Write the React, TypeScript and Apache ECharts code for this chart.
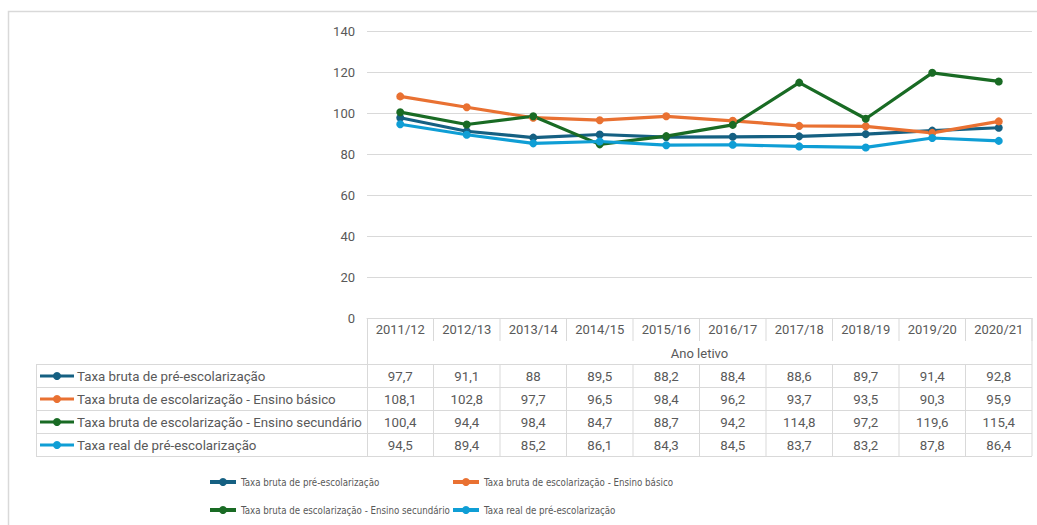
import React, { useEffect, useRef } from "react";
import * as echarts from "echarts";

const categories = ["2011/12", "2012/13", "2013/14", "2014/15", "2015/16", "2016/17", "2017/18", "2018/19", "2019/20", "2020/21"];
const seriesNames = [
  "Taxa bruta de pré-escolarização",
  "Taxa bruta de escolarização - Ensino básico",
  "Taxa bruta de escolarização - Ensino secundário",
  "Taxa real de pré-escolarização",
];
const preBruta = [97.7, 91.1, 88, 89.5, 88.2, 88.4, 88.6, 89.7, 91.4, 92.8];
const basico = [108.1, 102.8, 97.7, 96.5, 98.4, 96.2, 93.7, 93.5, 90.3, 95.9];
const secundario = [100.4, 94.4, 98.4, 84.7, 88.7, 94.2, 114.8, 97.2, 119.6, 115.4];
const preReal = [94.5, 89.4, 85.2, 86.1, 84.3, 84.5, 83.7, 83.2, 87.8, 86.4];
const seriesData = [preBruta, basico, secundario, preReal];
const colors = ["#156082", "#E97132", "#196B24", "#0F9ED5"];
const axisName = "Ano letivo";

const FONT = "Roboto";
const LEGEND_FONT = "'Liberation Sans Narrow', 'DejaVu Sans Condensed', Roboto";
const TXT = "#595959";
const GRID = "#d9d9d9";

function fitLegendSize(): number {
  try {
    const c = document.createElement("canvas").getContext("2d");
    if (!c) return 10.2;
    c.font = "12px " + LEGEND_FONT;
    const w = c.measureText(seriesNames[2]).width;
    const s = (12 * 209) / w;
    return Math.min(12.5, s);
  } catch (e) {
    return 10.2;
  }
}

export default function App() {
  const ref = useRef<HTMLDivElement>(null);
  useEffect(() => {
    if (!ref.current) return;
    const chart = echarts.init(ref.current, undefined, { renderer: "svg" });
    const gridLeft = 367;
    const gridRight = 1032;
    const legendSize = fitLegendSize();
    const legendPos = [
      [208, 477],
      [451, 477],
      [208, 505],
      [451, 505],
    ];
    chart.setOption({
      animation: false,
      textStyle: { fontFamily: FONT },
      grid: { left: gridLeft, right: 1037 - gridRight, top: 31, bottom: 525 - 318 },
      legend: seriesNames.map((n, i) => ({
        data: [n],
        left: legendPos[i][0],
        top: legendPos[i][1],
        padding: 0,
        itemWidth: 26,
        itemHeight: 10,
        lineStyle: { width: 4 },
        textStyle: { color: TXT, fontSize: legendSize, fontFamily: LEGEND_FONT },
        selectedMode: false,
      })),
      xAxis: {
        type: "category",
        data: categories,
        boundaryGap: true,
        axisLine: { show: true, lineStyle: { color: GRID, width: 1 } },
        axisTick: { show: false },
        axisLabel: { color: TXT, fontSize: 13, margin: 5, fontFamily: FONT },
        name: axisName,
        nameLocation: "middle",
        nameGap: 29,
        nameTextStyle: { color: TXT, fontSize: 13, fontFamily: FONT },
      },
      yAxis: {
        type: "value",
        min: 0,
        max: 140,
        interval: 20,
        axisLine: { show: false },
        axisTick: { show: false },
        splitLine: { lineStyle: { color: GRID, width: 1 } },
        axisLabel: { color: TXT, fontSize: 13, margin: 12, fontFamily: FONT },
      },
      series: seriesNames.map((n, i) => ({
        name: n,
        type: "line",
        data: seriesData[i],
        symbol: "circle",
        symbolSize: 8,
        lineStyle: { color: colors[i], width: 3.2 },
        itemStyle: { color: colors[i] },
      })),
    });

    const centers = categories.map((_, i) => chart.convertToPixel({ xAxisIndex: 0 }, i) as number);
    const half = (gridRight - gridLeft) / categories.length / 2;
    const axisY = 318;
    const headerBottom = 341;
    const rowTops = [364, 387, 410, 433, 456];
    const tableLeft = 36;
    const line = (x1: number, y1: number, x2: number, y2: number) => ({
      type: "line",
      shape: { x1, y1, x2, y2 },
      style: { stroke: GRID, lineWidth: 1 },
      silent: true,
    });
    const els: any[] = [];
    els.push({
      type: "polyline",
      shape: { points: [[8.5, 525], [8.5, 11.5], [1037, 11.5]] },
      style: { stroke: GRID, lineWidth: 1.5, fill: "none" },
      silent: true,
    });
    centers.forEach((c) => {
      els.push(line(c + half, axisY, c + half, headerBottom));
    });
    els.push(line(gridLeft + 0.5, axisY, gridLeft + 0.5, rowTops[4]));
    els.push(line(gridRight, axisY, gridRight, rowTops[4]));
    rowTops.forEach((y) => els.push(line(tableLeft, y + 0.5, gridRight, y + 0.5)));
    els.push(line(tableLeft + 0.5, rowTops[0], tableLeft + 0.5, rowTops[4]));
    centers.forEach((c, i) => {
      if (i < centers.length - 1) els.push(line(c + half, rowTops[0], c + half, rowTops[4]));
    });
    seriesNames.forEach((n, r) => {
      const cy = (rowTops[r] + rowTops[r + 1]) / 2 + 0.5;
      els.push({
        type: "line",
        shape: { x1: 40, y1: cy, x2: 74, y2: cy },
        style: { stroke: colors[r], lineWidth: 3 },
        silent: true,
      });
      els.push({
        type: "circle",
        shape: { cx: 57, cy, r: 4 },
        style: { fill: colors[r] },
        silent: true,
      });
      els.push({
        type: "text",
        x: 77,
        y: cy,
        style: { text: n, fill: TXT, fontSize: 13.3, fontFamily: FONT, align: "left", verticalAlign: "middle" },
        silent: true,
      });
      seriesData[r].forEach((v, i) => {
        els.push({
          type: "text",
          x: centers[i],
          y: cy,
          style: {
            text: String(v).replace(".", ","),
            fill: TXT,
            fontSize: 13.3,
            fontFamily: FONT,
            align: "center",
            verticalAlign: "middle",
          },
          silent: true,
        });
      });
    });
    chart.setOption({ graphic: { elements: els } });
    return () => chart.dispose();
  }, []);
  return (
    <div
      ref={ref}
      style={{ position: "fixed", left: 0, top: 0, width: 1037, height: 525, background: "#fff" }}
    />
  );
}
